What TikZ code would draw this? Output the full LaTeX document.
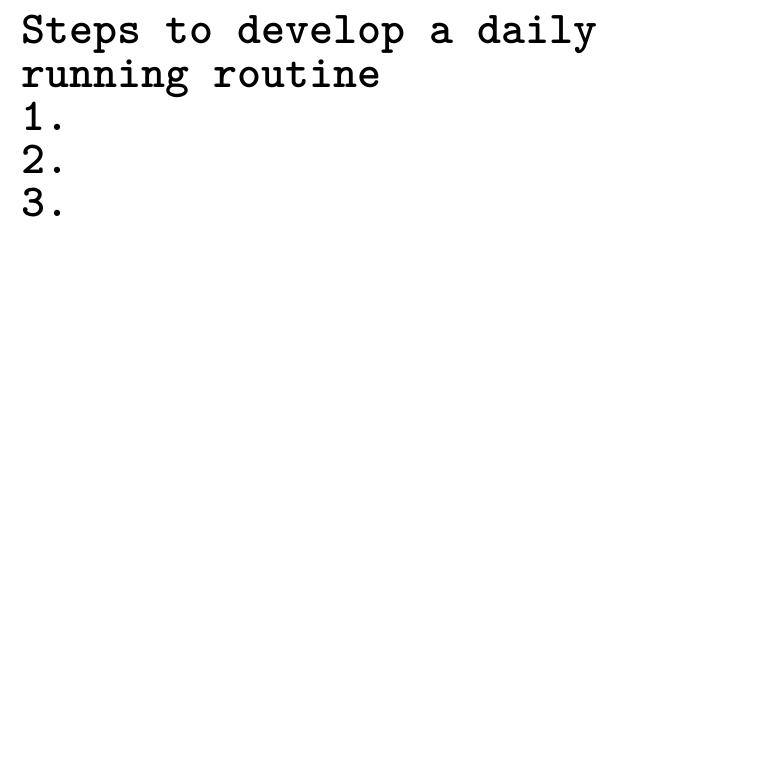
\documentclass[tikz,border=0pt]{standalone}
\usepackage{fontspec}
\begin{document}
\begin{tikzpicture}[x=1pt,y=1pt,
  txt/.style={anchor=base west,inner sep=0pt,font=\ttfamily\bfseries\fontsize{45.7}{43}\selectfont\addfontfeature{FakeBold=1.2}}]
\useasboundingbox[fill=white] (0,0) rectangle (760,-760);
\node[txt] (l1) at (21,-44) {Steps to develop a daily};
\node[txt] (l2) at (21,-87) {running routine};
\node[txt] (l3) at (21,-130) {1.};
\node[txt] (l4) at (21,-173) {2.};
\node[txt] (l5) at (21,-216) {3.};
\end{tikzpicture}
\end{document}
